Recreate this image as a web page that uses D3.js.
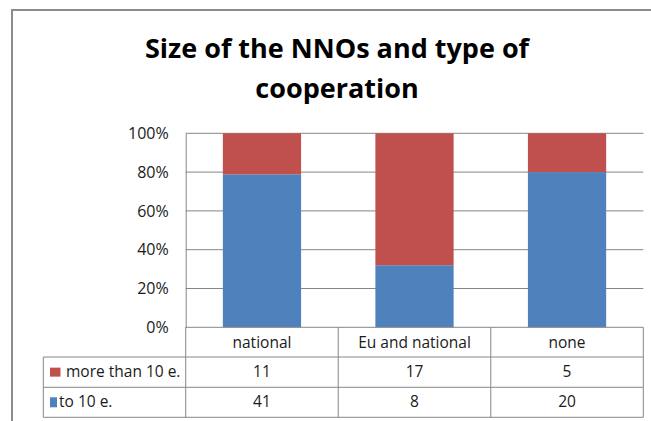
<!DOCTYPE html>
<html><head><meta charset="utf-8">
<script src="https://cdn.jsdelivr.net/npm/d3@7"></script>
<style>
html,body{margin:0;padding:0;background:#fff;}
svg{display:block;font-family:"Open Sans","Noto Sans",sans-serif;}
</style></head>
<body>
<svg id="chart" width="651" height="421"></svg>
<script>
const titleLines = ["Size of the NNOs and type of", "cooperation"];
const categories = ["national", "Eu and national", "none"];
const seriesNames = ["to 10 e.", "more than 10 e."];
const toTen = [41, 8, 20];
const moreThanTen = [11, 17, 5];
const seriesColors = ["#4F81BD", "#C0504D"];
const tickValues = [0, 0.2, 0.4, 0.6, 0.8, 1];

const svg = d3.select("#chart");
// outer frame
svg.append("rect").attr("x", 12).attr("y", 10).attr("width", 700).attr("height", 500)
  .attr("fill", "#fff").attr("stroke", "#8c8c8c").attr("stroke-width", 2);

// title
svg.append("g").selectAll("text").data(titleLines).join("text")
  .attr("x", 337).attr("y", (d, i) => 58 + i * 40)
  .attr("text-anchor", "middle").attr("font-size", 27).attr("font-weight", "bold")
  .attr("fill", "#000").text(d => d);

const plot = {left: 185.7, right: 643.3, top: 133.3, bottom: 327.3};
const x = d3.scaleBand().domain(categories).range([plot.left, plot.right]).paddingInner(0.487).paddingOuter(0.2435);
const band = d3.scaleBand().domain(categories).range([plot.left, plot.right]);
const y = d3.scaleLinear().domain([0, 1]).range([plot.bottom, plot.top]);

// gridlines
svg.append("g").selectAll("line").data(tickValues.slice(1)).join("line")
  .attr("x1", plot.left).attr("x2", plot.right)
  .attr("y1", d => y(d)).attr("y2", d => y(d))
  .attr("stroke", "#868686").attr("stroke-width", 1);

// y axis
const yAxis = d3.axisLeft(y).tickValues(tickValues).tickFormat(d3.format(".0%")).tickSize(0).tickPadding(17);
const yg = svg.append("g").attr("transform", `translate(${plot.left},0)`).call(yAxis);
yg.select(".domain").attr("stroke", "#868686");
yg.selectAll("text").attr("font-size", 16).attr("fill", "#1a1a1a").attr("font-family", "Open Sans");

// stacked data
const rows = categories.map((c, i) => {
  const tot = toTen[i] + moreThanTen[i];
  return {cat: c, s0: [0, toTen[i] / tot], s1: [toTen[i] / tot, 1]};
});
const bars = svg.append("g");
rows.forEach(r => {
  bars.append("rect").attr("x", x(r.cat)).attr("width", x.bandwidth())
    .attr("y", y(r.s0[1])).attr("height", y(r.s0[0]) - y(r.s0[1])).attr("fill", seriesColors[0]);
  bars.append("rect").attr("x", x(r.cat)).attr("width", x.bandwidth())
    .attr("y", y(r.s1[1])).attr("height", y(r.s1[0]) - y(r.s1[1])).attr("fill", seriesColors[1]);
});

// data table
const rowY = [327.3, 357, 387.3, 417.3];
const tableLeft = 43.3;
const tg = svg.append("g").attr("stroke", "#868686").attr("stroke-width", 1);
tg.append("line").attr("x1", plot.left).attr("x2", plot.right).attr("y1", rowY[0]).attr("y2", rowY[0]);
[1, 2, 3].forEach(i => tg.append("line").attr("x1", tableLeft).attr("x2", plot.right).attr("y1", rowY[i]).attr("y2", rowY[i]));
tg.append("line").attr("x1", tableLeft).attr("x2", tableLeft).attr("y1", rowY[1]).attr("y2", rowY[3]);
categories.forEach(c => tg.append("line").attr("x1", band(c)).attr("x2", band(c)).attr("y1", rowY[0]).attr("y2", rowY[3]));
tg.append("line").attr("x1", plot.right).attr("x2", plot.right).attr("y1", rowY[0]).attr("y2", rowY[3]);

const txt = svg.append("g").attr("font-size", 15.5).attr("fill", "#1a1a1a").attr("text-anchor", "middle");
categories.forEach((c, i) => {
  const cx = band(c) + band.bandwidth() / 2;
  txt.append("text").attr("x", cx).attr("y", (rowY[0] + rowY[1]) / 2 + 6).text(c);
  txt.append("text").attr("x", cx).attr("y", (rowY[1] + rowY[2]) / 2 + 5).text(moreThanTen[i]);
  txt.append("text").attr("x", cx).attr("y", (rowY[2] + rowY[3]) / 2 + 5).text(toTen[i]);
});
// legend keys in table
const legendRows = [
  {name: seriesNames[1], color: seriesColors[1], r: 1, w: 10.5, h: 9, tx: 66},
  {name: seriesNames[0], color: seriesColors[0], r: 2, w: 7, h: 10, tx: 59}
];
legendRows.forEach(l => {
  const cy = (rowY[l.r] + rowY[l.r + 1]) / 2;
  svg.append("rect").attr("x", 50).attr("y", cy - l.h / 2).attr("width", l.w).attr("height", l.h).attr("fill", l.color);
  svg.append("text").attr("x", l.tx).attr("y", cy + 5).attr("font-size", 15.5).attr("fill", "#1a1a1a").text(l.name);
});
</script>
</body></html>
